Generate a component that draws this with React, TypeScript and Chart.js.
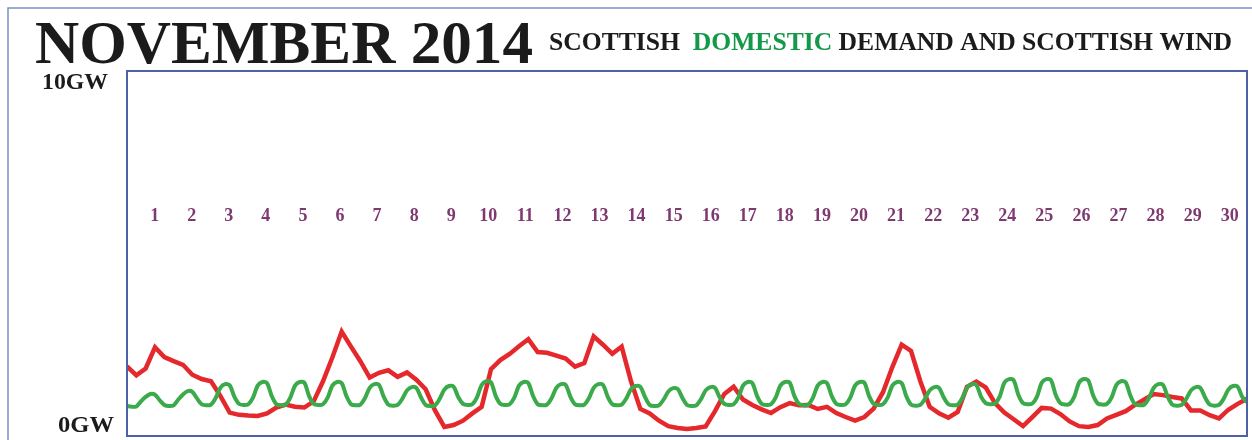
import React, { useEffect, useRef } from "react";
import { Chart, registerables } from "chart.js";

Chart.register(...registerables);

// ---------- DATA ----------
const TITLE = "NOVEMBER 2014";
const SUBTITLE_PARTS = ["SCOTTISH  ", "DOMESTIC", " DEMAND AND SCOTTISH WIND"];
const Y_TOP_LABEL = "10GW";
const Y_BOTTOM_LABEL = "0GW";
const DAY_LABELS = [
  "1", "2", "3", "4", "5", "6", "7", "8", "9", "10",
  "11", "12", "13", "14", "15", "16", "17", "18", "19", "20",
  "21", "22", "23", "24", "25", "26", "27", "28", "29", "30",
];
const Y_MIN_GW = 0;
const Y_MAX_GW = 10;
const MONTH_DAYS = 30;

// Scottish wind generation (GW), one value every 6 hours from 1 Nov 00:00
const WIND_STEP_DAYS = 0.25;
const windGW = [
  1.91, 1.66, 1.85, 2.43,
  2.16, 2.05, 1.95, 1.68,
  1.56, 1.5, 1.1, 0.64,
  0.58, 0.56, 0.55, 0.62,
  0.78, 0.86, 0.8, 0.78,
  0.95, 1.5, 2.15, 2.86,
  2.45, 2.05, 1.6, 1.73,
  1.8, 1.62, 1.74, 1.54,
  1.28, 0.7, 0.25, 0.3,
  0.42, 0.62, 0.8, 1.83,
  2.08, 2.25, 2.46, 2.65,
  2.3, 2.28, 2.2, 2.12,
  1.9, 2.0, 2.73, 2.5,
  2.25, 2.45, 1.5, 0.74,
  0.62, 0.42, 0.27, 0.22,
  0.19, 0.22, 0.26, 0.68,
  1.15, 1.35, 1.0, 0.85,
  0.73, 0.63, 0.79, 0.9,
  0.84, 0.85, 0.74, 0.8,
  0.63, 0.52, 0.42, 0.52,
  0.75, 1.2, 1.89, 2.5,
  2.33, 1.5, 0.8, 0.62,
  0.5, 0.66, 1.35, 1.49,
  1.33, 0.9, 0.64, 0.46,
  0.27, 0.52, 0.77, 0.75,
  0.6, 0.4, 0.27, 0.25,
  0.3, 0.48, 0.58, 0.68,
  0.85, 1.0, 1.15, 1.12,
  1.07, 1.03, 0.7, 0.7,
  0.57, 0.48, 0.72, 0.88,
  1.02,
];

// Scottish domestic demand (GW), one value every 3 hours from 1 Nov 00:00
const DEMAND_STEP_DAYS = 0.125;
const demandGW = [
  0.82, 0.80, 0.81, 0.95, 1.07, 1.15, 1.13, 0.98,
  0.85, 0.82, 0.84, 1.00, 1.14, 1.23, 1.21, 1.03,
  0.87, 0.84, 0.86, 1.04, 1.32, 1.42, 1.39, 1.08,
  0.88, 0.85, 0.87, 1.05, 1.38, 1.48, 1.45, 1.10,
  0.87, 0.84, 0.86, 1.05, 1.38, 1.48, 1.46, 1.10,
  0.88, 0.85, 0.87, 1.05, 1.38, 1.48, 1.45, 1.10,
  0.87, 0.84, 0.86, 1.04, 1.32, 1.42, 1.40, 1.08,
  0.86, 0.83, 0.85, 1.02, 1.25, 1.34, 1.32, 1.06,
  0.85, 0.82, 0.84, 1.02, 1.27, 1.37, 1.35, 1.06,
  0.88, 0.85, 0.87, 1.06, 1.40, 1.50, 1.47, 1.10,
  0.88, 0.85, 0.87, 1.05, 1.38, 1.48, 1.45, 1.10,
  0.87, 0.84, 0.86, 1.04, 1.32, 1.42, 1.40, 1.08,
  0.87, 0.84, 0.86, 1.04, 1.32, 1.42, 1.40, 1.08,
  0.87, 0.84, 0.86, 1.03, 1.28, 1.37, 1.35, 1.07,
  0.85, 0.82, 0.84, 1.00, 1.22, 1.31, 1.29, 1.05,
  0.85, 0.82, 0.84, 1.01, 1.25, 1.34, 1.32, 1.06,
  0.88, 0.85, 0.87, 1.05, 1.38, 1.48, 1.45, 1.10,
  0.88, 0.85, 0.87, 1.05, 1.38, 1.48, 1.46, 1.10,
  0.88, 0.84, 0.86, 1.05, 1.38, 1.48, 1.45, 1.10,
  0.88, 0.85, 0.87, 1.05, 1.38, 1.48, 1.46, 1.10,
  0.88, 0.85, 0.87, 1.05, 1.38, 1.48, 1.45, 1.09,
  0.86, 0.83, 0.85, 1.02, 1.25, 1.34, 1.32, 1.06,
  0.87, 0.84, 0.86, 1.04, 1.32, 1.42, 1.40, 1.08,
  0.90, 0.87, 0.89, 1.08, 1.46, 1.56, 1.53, 1.13,
  0.90, 0.87, 0.89, 1.08, 1.46, 1.56, 1.53, 1.13,
  0.90, 0.86, 0.88, 1.08, 1.46, 1.56, 1.52, 1.12,
  0.89, 0.86, 0.88, 1.06, 1.40, 1.50, 1.47, 1.11,
  0.87, 0.84, 0.86, 1.04, 1.32, 1.42, 1.40, 1.08,
  0.86, 0.83, 0.85, 1.02, 1.25, 1.34, 1.32, 1.06,
  0.86, 0.83, 0.85, 1.02, 1.27, 1.37, 1.35, 1.07,
  0.93,
];

// ---------- STYLE ----------
const W = 1252;
const H = 440;
const SERIF = '"Liberation Serif", "DejaVu Serif", serif';
const WIND_COLOR = "#e4282c";
const DEMAND_COLOR = "#3aaa4b";
const GREEN_TEXT = "#14984a";
const TEXT_DARK = "#1b1b1b";
const DAY_COLOR = "#7e3a70";
const PLOT_BORDER = "#4d62a6";
const OUTER_BORDER = "#7d8fc4";

function fitText(
  ctx: CanvasRenderingContext2D,
  parts: { text: string; color: string }[],
  x: number,
  baseline: number,
  width: number,
  font: string
) {
  ctx.save();
  ctx.font = font;
  ctx.textBaseline = "alphabetic";
  ctx.textAlign = "left";
  const total = parts.reduce((s, p) => s + ctx.measureText(p.text).width, 0);
  ctx.translate(x, baseline);
  ctx.scale(width / total, 1);
  let cx = 0;
  for (const p of parts) {
    ctx.fillStyle = p.color;
    ctx.fillText(p.text, cx, 0);
    cx += ctx.measureText(p.text).width;
  }
  ctx.restore();
}

const decorPlugin = {
  id: "decor",
  beforeDraw(chart: any) {
    const ctx: CanvasRenderingContext2D = chart.ctx;
    ctx.save();
    ctx.fillStyle = "#ffffff";
    ctx.fillRect(0, 0, W, H);
    ctx.strokeStyle = OUTER_BORDER;
    ctx.lineWidth = 1.5;
    ctx.strokeRect(8, 8, W + 20, H + 20);
    ctx.restore();

    fitText(ctx, [{ text: TITLE, color: TEXT_DARK }], 35, 63, 498, `bold 61px ${SERIF}`);
    fitText(
      ctx,
      [
        { text: SUBTITLE_PARTS[0], color: TEXT_DARK },
        { text: SUBTITLE_PARTS[1], color: GREEN_TEXT },
        { text: SUBTITLE_PARTS[2], color: TEXT_DARK },
      ],
      549,
      50,
      683,
      `bold 25px ${SERIF}`
    );
    fitText(ctx, [{ text: Y_TOP_LABEL, color: TEXT_DARK }], 42, 89, 66, `bold 24px ${SERIF}`);
    fitText(ctx, [{ text: Y_BOTTOM_LABEL, color: TEXT_DARK }], 58, 432, 56, `bold 24px ${SERIF}`);

    const xs = chart.scales.x;
    ctx.save();
    ctx.font = `bold 18px ${SERIF}`;
    ctx.fillStyle = DAY_COLOR;
    ctx.textAlign = "center";
    ctx.textBaseline = "alphabetic";
    DAY_LABELS.forEach((lab, i) => {
      const px = xs.getPixelForValue(i * 0.993 + 0.74);
      ctx.fillText(lab, px, 221);
    });
    ctx.restore();
  },
  afterDraw(chart: any) {
    const ctx: CanvasRenderingContext2D = chart.ctx;
    const a = chart.chartArea;
    ctx.save();
    ctx.strokeStyle = PLOT_BORDER;
    ctx.lineWidth = 2;
    ctx.strokeRect(a.left, a.top, a.right - a.left, a.bottom - a.top);
    ctx.restore();
  },
};

export default function App() {
  const ref = useRef<HTMLCanvasElement>(null);
  useEffect(() => {
    const canvas = ref.current;
    if (!canvas) return;
    const chart = new Chart(canvas, {
      type: "line",
      data: {
        datasets: [
          {
            label: "Scottish domestic demand",
            data: demandGW.map((v, i) => ({ x: i * DEMAND_STEP_DAYS, y: v })),
            borderColor: DEMAND_COLOR,
            borderWidth: 4,
            pointRadius: 0,
            tension: 0.3,
            fill: false,
          },
          {
            label: "Scottish wind",
            data: windGW.map((v, i) => ({ x: i * WIND_STEP_DAYS, y: v })),
            borderColor: WIND_COLOR,
            borderWidth: 4.5,
            pointRadius: 0,
            tension: 0,
            fill: false,
          },
        ],
      },
      options: {
        animation: false,
        responsive: false,
        devicePixelRatio: 1,
        layout: { padding: { left: 127, top: 71, right: 5, bottom: 4 } },
        scales: {
          x: { type: "linear", min: 0, max: MONTH_DAYS, display: false },
          y: { min: Y_MIN_GW, max: Y_MAX_GW, display: false },
        },
        plugins: {
          legend: { display: false },
          tooltip: { enabled: false },
          title: { display: false },
        },
      },
      plugins: [decorPlugin],
    } as any);
    return () => chart.destroy();
  }, []);
  return (
    <div style={{ position: "absolute", left: 0, top: 0, width: W, height: H, background: "#fff" }}>
      <canvas ref={ref} width={W} height={H} style={{ display: "block", width: W, height: H }} />
    </div>
  );
}
